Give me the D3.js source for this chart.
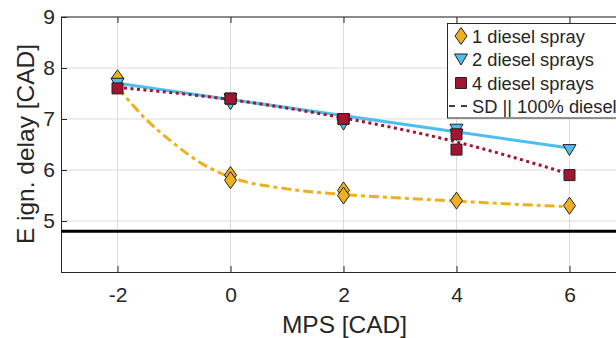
<!DOCTYPE html>
<html><head><meta charset="utf-8">
<script src="https://cdn.jsdelivr.net/npm/d3@7"></script>
<style>body{margin:0;background:#fff}svg{display:block}text{font-family:"Liberation Sans",Arial,sans-serif;fill:#262626}</style>
</head><body><svg id="c" width="616" height="338"></svg>
<script>
const xTicks = [-2, 0, 2, 4, 6];
const yTicks = [5, 6, 7, 8, 9];
// measured points
const one = [[-2,7.8],[0,5.9],[0,5.8],[2,5.6],[2,5.5],[4,5.4],[6,5.3]];
const two = [[-2,7.7],[0,7.4],[0,7.3],[2,7.0],[2,6.9],[4,6.8],[4,6.7],[6,6.4]];
const four = [[-2,7.6],[0,7.4],[0,7.4],[2,7.0],[2,7.0],[4,6.7],[4,6.4],[6,5.9]];
// fitted curves
const oneFitX = [-2,-1.5,-1,-0.5,0,1,2,3,4,5,6];
const oneFitY = [7.62,7.0,6.52,6.12,5.86,5.63,5.52,5.45,5.39,5.33,5.28];
const twoFitX = [-2, 6];
const twoFitY = [7.7, 6.43];
const fourFitX = [-2,0,2,4,6];
const fourFitY = [7.62,7.38,7.02,6.55,5.92];
const sdLevel = 4.8;
const legendLabels = ["1 diesel spray","2 diesel sprays","4 diesel sprays","SD || 100% diesel"];
const colors = ["#EDB120","#4DBEEE","#A2142F","#000000"];

const svg = d3.select("#c");
const L=61, T=17, B=272;
const x = d3.scaleLinear().domain([-3,7]).range([L, 626]);
const y = d3.scaleLinear().domain([4,9]).range([B, T]);

// grid
svg.append("g").selectAll("line").data(xTicks).join("line")
  .attr("x1",d=>x(d)).attr("x2",d=>x(d)).attr("y1",T).attr("y2",B)
  .attr("stroke","#dcdcdc").attr("stroke-width",1);
svg.append("g").selectAll("line").data(yTicks).join("line")
  .attr("x1",L).attr("x2",626).attr("y1",d=>y(d)).attr("y2",d=>y(d))
  .attr("stroke","#dcdcdc").attr("stroke-width",1);

// axes
const ax = svg.append("g").attr("transform",`translate(0,${B})`)
  .call(d3.axisBottom(x).tickValues(xTicks).tickSize(-6).tickPadding(15).tickFormat(d=>String(d)));
const ay = svg.append("g").attr("transform",`translate(${L},0)`)
  .call(d3.axisLeft(y).tickValues(yTicks).tickSize(-6).tickPadding(6).tickFormat(d=>String(d)));
[ax,ay].forEach(g=>{g.selectAll("text").attr("font-size",21).style("fill","#262626");
  g.selectAll("line").attr("stroke","#262626"); g.select(".domain").attr("stroke","#262626");});
svg.append("line").attr("x1",L).attr("x2",626).attr("y1",T).attr("y2",T).attr("stroke","#262626");
svg.append("g").attr("transform",`translate(0,${T})`)
  .call(d3.axisBottom(x).tickValues(xTicks).tickSize(6).tickFormat(""))
  .call(g=>{g.select(".domain").remove(); g.selectAll("line").attr("stroke","#262626");});

svg.append("text").attr("x",x(2)+1).attr("y",333).attr("text-anchor","middle").attr("font-size",24.5).text("MPS [CAD]");
svg.append("text").attr("transform",`translate(34,144) rotate(-90)`).attr("text-anchor","middle").attr("font-size",24.5).text("E ign. delay [CAD]");

// SD line
svg.append("line").attr("x1",L).attr("x2",626).attr("y1",y(sdLevel)).attr("y2",y(sdLevel))
  .attr("stroke","#000").attr("stroke-width",3);

const line = d3.line().x(d=>x(d[0])).y(d=>y(d[1]));
svg.append("path").datum(oneFitX.map((v,i)=>[v,oneFitY[i]])).attr("d",d3.line().x(d=>x(d[0])).y(d=>y(d[1])).curve(d3.curveMonotoneX))
  .attr("fill","none").attr("stroke",colors[0]).attr("stroke-width",3).attr("stroke-dasharray","10,4,4,4");
svg.append("path").datum(twoFitX.map((v,i)=>[v,twoFitY[i]])).attr("d",line)
  .attr("fill","none").attr("stroke",colors[1]).attr("stroke-width",3);
svg.append("path").datum(fourFitX.map((v,i)=>[v,fourFitY[i]])).attr("d",d3.line().x(d=>x(d[0])).y(d=>y(d[1])).curve(d3.curveMonotoneX))
  .attr("fill","none").attr("stroke",colors[2]).attr("stroke-width",3).attr("stroke-dasharray","3,3.5");

const diamond = "M0,-8.5L6,0L0,8.5L-6,0Z";
const tri = "M-6.5,-5L6.5,-5L0,6Z";
const sq = "M-5.5,-5.5L5.5,-5.5L5.5,5.5L-5.5,5.5Z";
function marks(data, p, c){
  svg.append("g").selectAll("path").data(data).join("path")
    .attr("d",p).attr("transform",d=>`translate(${x(d[0])},${y(d[1])})`)
    .attr("fill",c).attr("stroke","#222").attr("stroke-width",1);
}
marks(one, diamond, colors[0]);
marks(two, tri, colors[1]);
marks(four, sq, colors[2]);

// legend
const lg = svg.append("g");
lg.append("rect").attr("x",447.5).attr("y",23.5).attr("width",180).attr("height",94.5)
  .attr("fill","#fff").attr("stroke","#262626").attr("stroke-width",1);
const rows = [36,59,83,106];
const shapes=[diamond,tri,sq];
legendLabels.forEach((t,i)=>{
  if(i<3){ lg.append("path").attr("d",shapes[i]).attr("transform",`translate(461,${rows[i]})`)
    .attr("fill",colors[i]).attr("stroke","#222"); }
  else { lg.append("line").attr("x1",449).attr("x2",468).attr("y1",rows[i]).attr("y2",rows[i])
    .attr("stroke","#000").attr("stroke-width",1.5).attr("stroke-dasharray","6,6"); }
  lg.append("text").attr("x",472).attr("y",rows[i]+7).attr("font-size",18.3).text(t);
});
</script></body></html>
